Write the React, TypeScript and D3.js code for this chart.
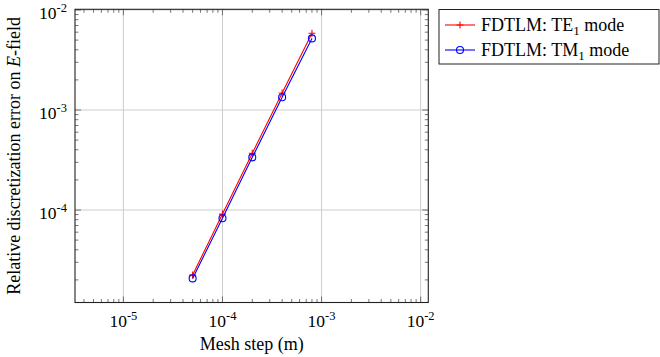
import { useEffect, useRef } from 'react'
import * as d3 from 'd3'

// mesh step (m)
const meshSteps = [5e-5, 1e-4, 2e-4, 4e-4, 8e-4]
// relative error, TE1 mode (red +)
const errTE = [2.24e-5, 9.1e-5, 3.69e-4, 1.48e-3, 5.85e-3]
// relative error, TM1 mode (blue o)
const errTM = [2.07e-5, 8.26e-5, 3.36e-4, 1.34e-3, 5.2e-3]
const xTickExps = [-5, -4, -3, -2]
const yTickExps = [-4, -3, -2]

const W = 660
const H = 357
const FONT = '"Liberation Serif", "Times New Roman", serif'

export default function App() {
  const svgRef = useRef<SVGSVGElement | null>(null)

  useEffect(() => {
    if (!svgRef.current) return
    const svg = d3.select(svgRef.current)
    svg.selectAll('*').remove()

    const left = 75, right = 428.3, top = 9.3, bottom = 302.5
    const x = d3.scaleLog().domain([10 ** -5.488, 10 ** -1.923]).range([left, right])
    const y = d3.scaleLog().domain([10 ** -4.925, 10 ** -1.993]).range([bottom, top])

    const g = svg.append('g')

    // grid
    xTickExps.forEach(e => {
      g.append('line')
        .attr('x1', x(10 ** e)).attr('x2', x(10 ** e))
        .attr('y1', top).attr('y2', bottom)
        .attr('stroke', '#cccccc').attr('stroke-width', 1)
    })
    yTickExps.forEach(e => {
      g.append('line')
        .attr('x1', left).attr('x2', right)
        .attr('y1', y(10 ** e)).attr('y2', y(10 ** e))
        .attr('stroke', '#cccccc').attr('stroke-width', 1)
    })

    // minor ticks (inside, all four sides)
    const tickColor = '#555'
    const [xd0, xd1] = x.domain()
    for (let e = -6; e <= -1; e++) {
      for (let m = 1; m <= 9; m++) {
        const v = m * 10 ** e
        if (v < xd0 || v > xd1) continue
        const len = m === 1 ? 6 : 3.5
        const px = x(v)
        g.append('line').attr('x1', px).attr('x2', px).attr('y1', bottom).attr('y2', bottom - len)
          .attr('stroke', tickColor).attr('stroke-width', 0.8)
        g.append('line').attr('x1', px).attr('x2', px).attr('y1', top).attr('y2', top + len)
          .attr('stroke', tickColor).attr('stroke-width', 0.8)
      }
    }
    const [yd0, yd1] = y.domain()
    for (let e = -6; e <= -1; e++) {
      for (let m = 1; m <= 9; m++) {
        const v = m * 10 ** e
        if (v < yd0 || v > yd1 * 1.001) continue
        const len = m === 1 ? 6 : 3.5
        const py = y(v)
        g.append('line').attr('x1', left).attr('x2', left + len).attr('y1', py).attr('y2', py)
          .attr('stroke', tickColor).attr('stroke-width', 0.8)
        g.append('line').attr('x1', right).attr('x2', right - len).attr('y1', py).attr('y2', py)
          .attr('stroke', tickColor).attr('stroke-width', 0.8)
      }
    }

    // frame
    g.append('rect')
      .attr('x', left).attr('y', top).attr('width', right - left).attr('height', bottom - top)
      .attr('fill', 'none').attr('stroke', '#222').attr('stroke-width', 1.1)

    // tick labels
    xTickExps.forEach(e => {
      const t = g.append('text')
        .attr('x', x(10 ** e)).attr('y', 327)
        .attr('text-anchor', 'middle')
        .style('font-family', FONT).style('font-size', '17.5px').style('fill', '#000')
      t.append('tspan').text('10')
      t.append('tspan').attr('dy', -7).style('font-size', '12.5px').text(String(e))
    })
    yTickExps.forEach(e => {
      const t = g.append('text')
        .attr('x', left - 8).attr('y', y(10 ** e) + 8.5)
        .attr('text-anchor', 'end')
        .style('font-family', FONT).style('font-size', '17.5px').style('fill', '#000')
      t.append('tspan').text('10')
      t.append('tspan').attr('dy', -7).style('font-size', '12.5px').text(String(e))
    })

    // axis labels
    g.append('text')
      .attr('x', (left + right) / 2).attr('y', 350)
      .attr('text-anchor', 'middle')
      .style('font-family', FONT).style('font-size', '18px')
      .text('Mesh step (m)')
    const yl = g.append('text')
      .attr('transform', `translate(20,${(top + bottom) / 2}) rotate(-90)`)
      .attr('text-anchor', 'middle')
      .style('font-family', FONT).style('font-size', '18px')
    yl.append('tspan').text('Relative discretization error on ')
    yl.append('tspan').style('font-style', 'italic').text('E')
    yl.append('tspan').text('-field')

    // series
    const pts = (ys: number[]) => meshSteps.map((v, i) => [x(v), y(ys[i])] as [number, number])

    const te = pts(errTE)
    g.append('path').attr('d', d3.line()(te))
      .attr('fill', 'none').attr('stroke', '#ff0000').attr('stroke-width', 1.1)
    te.forEach(([px, py]) => {
      g.append('path').attr('d', `M${px - 3.5},${py}H${px + 3.5}M${px},${py - 3.5}V${py + 3.5}`)
        .attr('stroke', '#ff0000').attr('stroke-width', 1.1)
    })

    const tm = pts(errTM)
    g.append('path').attr('d', d3.line()(tm))
      .attr('fill', 'none').attr('stroke', '#0000ff').attr('stroke-width', 1.1)
    tm.forEach(([px, py]) => {
      g.append('circle').attr('cx', px).attr('cy', py).attr('r', 3.5)
        .attr('fill', 'none').attr('stroke', '#0000ff').attr('stroke-width', 1.1)
    })

    // legend
    const lg = svg.append('g')
    lg.append('rect').attr('x', 439).attr('y', 9.5).attr('width', 220).attr('height', 54.5)
      .attr('fill', '#fff').attr('stroke', '#222').attr('stroke-width', 1)
    const entries = [
      { color: '#ff0000', mode: 'TE', marker: 'plus' },
      { color: '#0000ff', mode: 'TM', marker: 'circle' },
    ]
    entries.forEach((en, i) => {
      const cy = 25 + i * 25
      lg.append('line').attr('x1', 445).attr('x2', 475).attr('y1', cy).attr('y2', cy)
        .attr('stroke', en.color).attr('stroke-width', 1.1)
      if (en.marker === 'plus') {
        lg.append('path').attr('d', `M456.5,${cy}H463.5M460,${cy - 3.5}V${cy + 3.5}`)
          .attr('stroke', en.color).attr('stroke-width', 1.1)
      } else {
        lg.append('circle').attr('cx', 460).attr('cy', cy).attr('r', 3.5)
          .attr('fill', 'none').attr('stroke', en.color).attr('stroke-width', 1.1)
      }
      const t = lg.append('text').attr('x', 481).attr('y', cy + 6)
        .style('font-family', FONT).style('font-size', '18px')
      t.append('tspan').text(`FDTLM: ${en.mode}`)
      t.append('tspan').attr('dy', 4).style('font-size', '13px').text('1')
      t.append('tspan').attr('dy', -4).text(' mode')
    })
  }, [])

  return (
    <svg ref={svgRef} width={W} height={H} viewBox={`0 0 ${W} ${H}`}
      style={{ position: 'absolute', left: 0, top: 0, background: '#fff' }} />
  )
}
